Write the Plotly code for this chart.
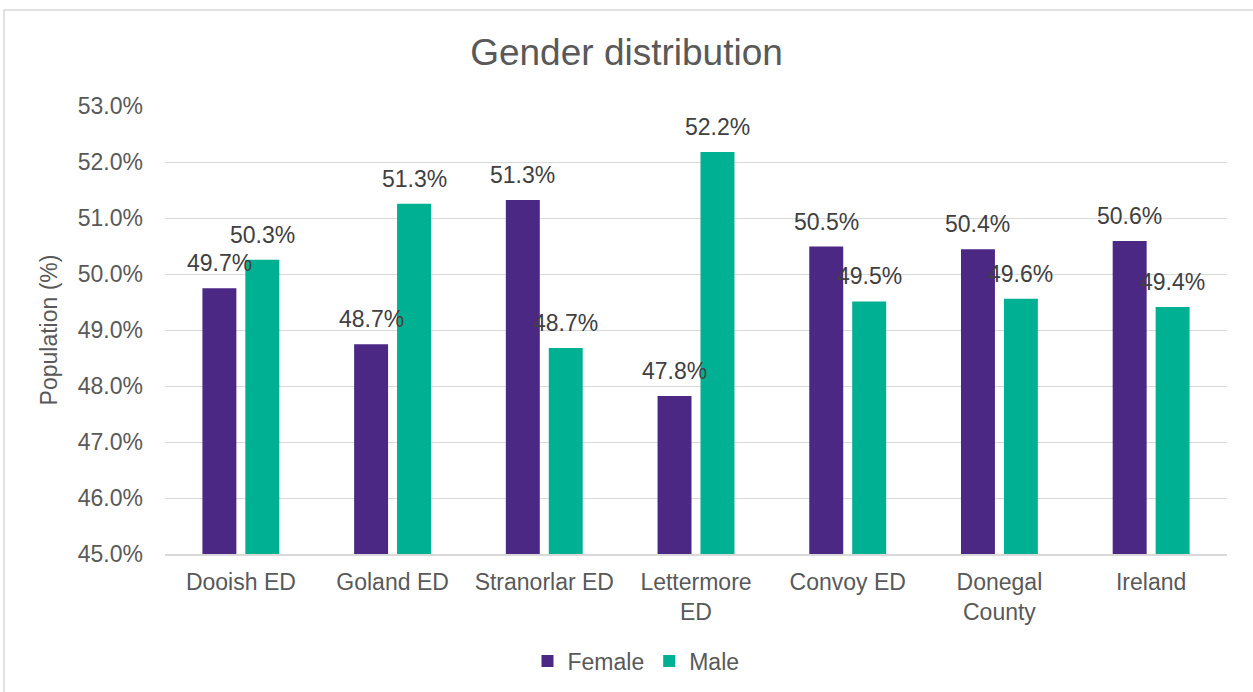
import plotly.graph_objects as go

# Chart data
areas = ['Dooish ED', 'Goland ED', 'Stranorlar ED', 'Lettermore<br>ED',
         'Convoy ED', 'Donegal<br>County', 'Ireland']
female = [0.49745, 0.48745, 0.5132, 0.4782, 0.5049, 0.5044, 0.5059]
male = [0.50255, 0.51255, 0.4868, 0.5218, 0.4951, 0.4956, 0.4941]
y_ticks = [0.45, 0.46, 0.47, 0.48, 0.49, 0.50, 0.51, 0.52, 0.53]

FONT = 'Liberation Sans, Arial, sans-serif'
GREY = '#595959'


def create_gender_chart():
    fig = go.Figure()
    fig.add_trace(go.Bar(x=areas, y=female, name='Female',
                         marker=dict(color='#4B2884', line_width=0)))
    fig.add_trace(go.Bar(x=areas, y=male, name='Male',
                         marker=dict(color='#00B092', line_width=0)))

    # Data labels sit a little above each bar, like Excel's outside-end labels
    for vals, shift in ((female, -21.5), (male, 21.5)):
        for a, v in zip(areas, vals):
            fig.add_annotation(x=a, y=v, text=f'{v * 100:.1f}%', showarrow=False,
                               xshift=shift, yshift=25, yanchor='middle',
                               font=dict(size=23, color='#404040', family=FONT))

    fig.update_layout(
        width=1253, height=692,
        margin=dict(l=165, r=26, t=106, b=138, autoexpand=False),
        paper_bgcolor='white', plot_bgcolor='white',
        font=dict(family=FONT, size=23, color=GREY),
        title=dict(text='Gender distribution', x=0.5, xanchor='center',
                   y=1 - 52 / 692, yanchor='middle',
                   font=dict(size=37, color=GREY, family=FONT)),
        barmode='group', bargap=0.434, bargroupgap=0.209,
        legend=dict(orientation='h', x=0.4435, xanchor='center', y=-0.239,
                    yanchor='middle', font=dict(size=23, color=GREY)),
        showlegend=True,
    )
    fig.update_yaxes(range=[0.45, 0.53], tickvals=y_ticks, tickformat='.1%',
                     showgrid=True, gridcolor='#D9D9D9', gridwidth=1.3,
                     zeroline=False, ticklabelstandoff=21,
                     title=dict(text='Population (%)', standoff=13,
                                font=dict(size=23, color=GREY)))
    fig.update_xaxes(showline=True, linecolor='#D9D9D9', linewidth=1.5,
                     ticklabelstandoff=7, tickfont=dict(size=23, color=GREY))

    # light frame around the chart (only top and left edges fall inside the page)
    fig.add_shape(type='rect', xref='paper', yref='paper',
                  x0=(4 - 165) / 1062, x1=1.2, y0=-0.6, y1=(554 - 10) / 448,
                  line=dict(color='#D9D9D9', width=1.5), layer='below')

    # drop the default page margin so the figure starts at the window corner
    fig.write_html('out.html', config={'displayModeBar': False},
                   post_script="document.body.style.margin='0';")


if __name__ == '__main__':
    create_gender_chart()
